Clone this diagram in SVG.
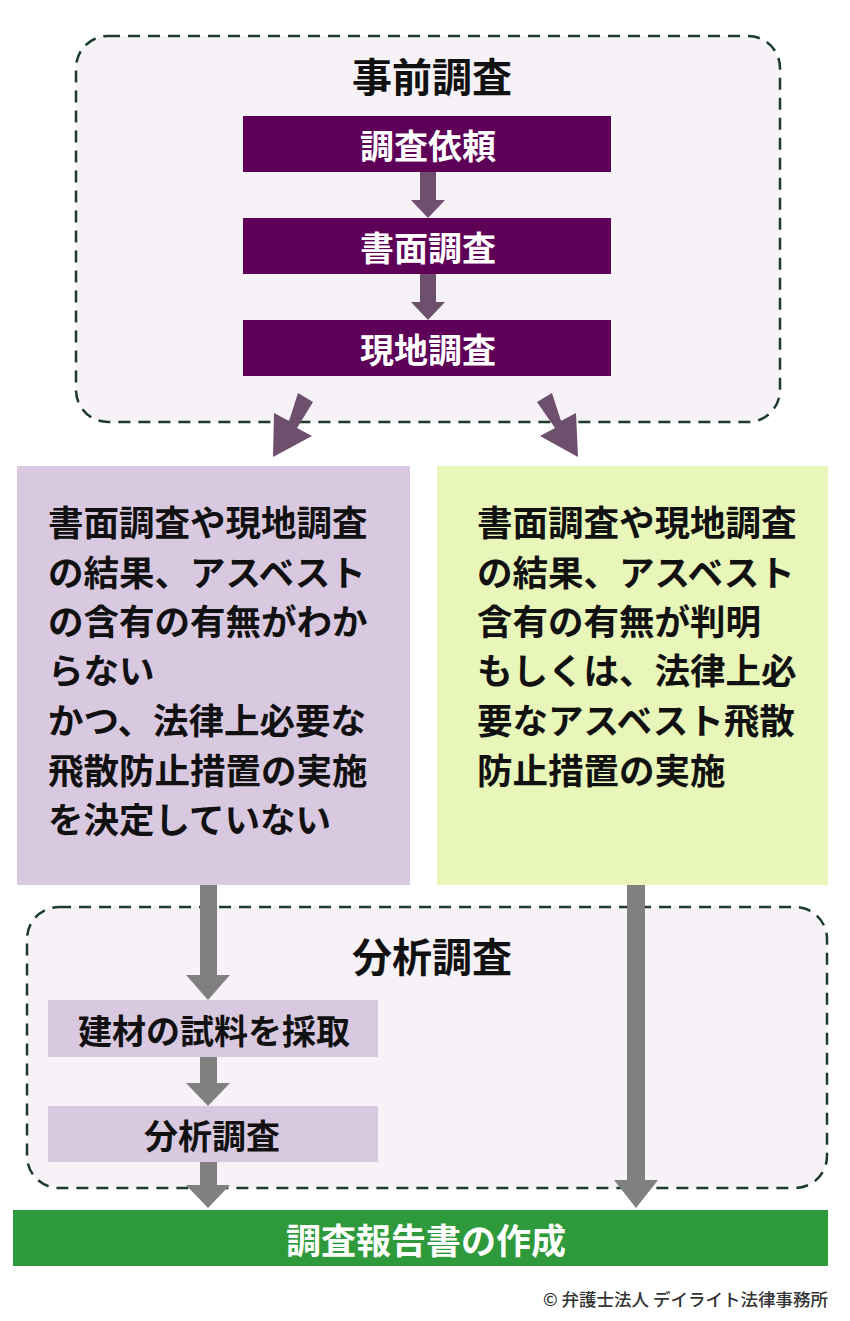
<svg xmlns="http://www.w3.org/2000/svg" width="850" height="1321" viewBox="0 0 850 1321">
<style>
text{font-family:"Noto Sans CJK JP","Noto Sans",sans-serif;font-weight:bold;dominant-baseline:central}
.grp{fill:#f7f2f7;stroke:#1d3b2c;stroke-width:2.5;stroke-dasharray:12 8}
.title{font-size:40px;fill:#111;text-anchor:middle}
.pbox{fill:#5e0058}
.wt{font-size:34px;fill:#fff;text-anchor:middle}
.gt{font-size:35px;fill:#fff;text-anchor:middle}
.bt{font-size:35.5px;fill:#111}
.st{font-size:34px;fill:#111;text-anchor:middle}
.lav{fill:#d9c9e0}
.pa{fill:#6e4f6e}
.ga{fill:#808080}
.copy{font-size:17.5px;fill:#333;text-anchor:end;font-weight:500}
</style>
<rect width="850" height="1321" fill="#fff"/>
<g id="group-jizen">
<rect class="grp" x="76" y="36" width="704" height="386" rx="32"/>
<text class="title" x="432" y="75">事前調査</text>
</g>
<g id="group-bunseki">
<rect class="grp" x="27" y="907" width="800" height="281" rx="32"/>
<text class="title" x="432" y="955">分析調査</text>
</g>
<g id="node-irai"><rect class="pbox" x="243" y="116" width="368" height="56"/><text class="wt" x="428" y="144">調査依頼</text></g>
<g id="node-shomen"><rect class="pbox" x="243" y="218" width="368" height="56"/><text class="wt" x="428" y="246">書面調査</text></g>
<g id="node-genchi"><rect class="pbox" x="243" y="320" width="368" height="56"/><text class="wt" x="428" y="348">現地調査</text></g>
<g id="node-unknown">
<rect class="lav" x="17" y="466" width="393" height="419"/>
<text class="bt" x="48" y="520">書面調査や現地調査</text>
<text class="bt" x="48" y="570">の結果、アスベスト</text>
<text class="bt" x="48" y="619">の含有の有無がわか</text>
<text class="bt" x="48" y="668">らない</text>
<text class="bt" x="48" y="718">かつ、法律上必要な</text>
<text class="bt" x="48" y="768">飛散防止措置の実施</text>
<text class="bt" x="48" y="817">を決定していない</text>
</g>
<g id="node-known">
<rect fill="#e8f7b9" x="437" y="466" width="391" height="419"/>
<text class="bt" x="477" y="520">書面調査や現地調査</text>
<text class="bt" x="477" y="570">の結果、アスベスト</text>
<text class="bt" x="477" y="619">含有の有無が判明</text>
<text class="bt" x="477" y="668">もしくは、法律上必</text>
<text class="bt" x="477" y="718">要なアスベスト飛散</text>
<text class="bt" x="477" y="768">防止措置の実施</text>
</g>
<g id="node-sample"><rect class="lav" x="48" y="1000" width="330" height="57"/><text class="st" x="214" y="1029">建材の試料を採取</text></g>
<g id="node-analysis"><rect class="lav" x="48" y="1106" width="330" height="56"/><text class="st" x="212" y="1134">分析調査</text></g>
<g id="node-report"><rect fill="#2f9a3b" x="13" y="1210" width="815" height="56"/><text class="gt" x="426" y="1238">調査報告書の作成</text></g>
<g id="connectors">
<polygon class="pa" points="420,172 436,172 436,200 445,200 428,218 411,200 420,200"/>
<polygon class="pa" points="420,274 436,274 436,302 445,302 428,320 411,302 420,302"/>
<polygon class="pa" points="298,393 313,402 297,428 312,436 273,457 274,413 289,421"/>
<polygon class="pa" points="537,402 552,393 561,421 576,413 578,457 540,436 555,428"/>
<polygon class="ga" points="200,885 217,885 217,975 230,975 208,1000 186,975 200,975"/>
<polygon class="ga" points="627,885 645,885 645,1180 658,1180 636,1208 614,1180 627,1180"/>
<polygon class="ga" points="200,1057 217,1057 217,1083 230,1083 208,1106 186,1083 200,1083"/>
<polygon class="ga" points="200,1162 217,1162 217,1185 230,1185 208,1208 186,1185 200,1185"/>
</g>
<text class="copy" x="828" y="1298">© 弁護士法人 デイライト法律事務所</text>
</svg>
